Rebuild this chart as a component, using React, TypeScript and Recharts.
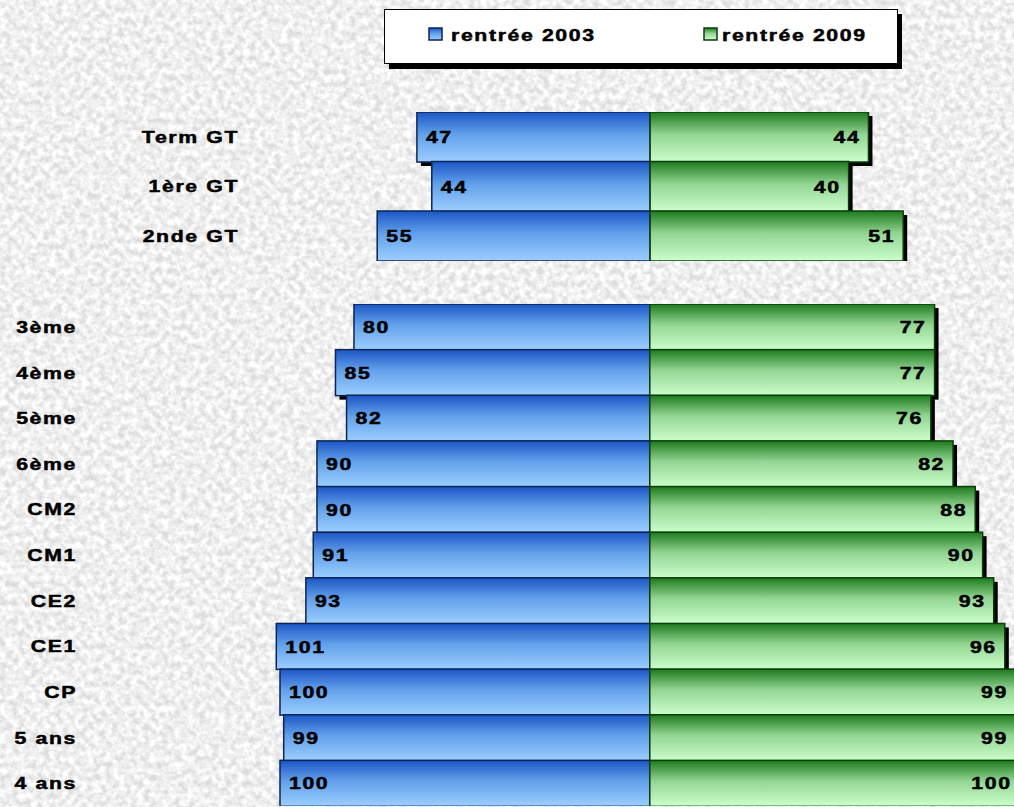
import React from "react";
import { BarChart, Bar, XAxis, YAxis, LabelList } from "recharts";

// lycée (upper block)
const lyceeLevels = ["Term GT", "1ère GT", "2nde GT"];
const lycee2003 = [47, 44, 55];
const lycee2009 = [44, 40, 51];

// collège / école (lower block)
const ecoleLevels = ["3ème", "4ème", "5ème", "6ème", "CM2", "CM1", "CE2", "CE1", "CP", "5 ans", "4 ans"];
const ecole2003 = [80, 85, 82, 90, 90, 91, 93, 101, 100, 99, 100];
const ecole2009 = [77, 77, 76, 82, 88, 90, 93, 96, 99, 99, 100];

const seriesNames = ["rentrée 2003", "rentrée 2009"];

const FONT = "'Liberation Sans', Arial, sans-serif";
const SX = 1.25; // the source picture is stretched sideways
const CX = 650; // the zero line

function toRows(levels: string[], a: number[], b: number[]) {
  return levels.map((name, i) => ({ name, y2003: -a[i], y2009: b[i] }));
}

function WideText({ x, y, anchor, children }: any) {
  return (
    <text
      transform={`translate(${x},${y}) scale(${SX},1)`}
      x={0}
      y={0}
      dy="0.36em"
      textAnchor={anchor}
      fontFamily={FONT}
      fontWeight="bold"
      fontSize={17}
      letterSpacing={1.3}
      fill="#000"
      stroke="#000"
      strokeWidth={0.5}
    >
      {children}
    </text>
  );
}

function box(p: any) {
  const left = Math.min(p.x, p.x + p.width);
  const top = Math.min(p.y, p.y + p.height);
  return { left, top, w: Math.abs(p.width), h: Math.abs(p.height) };
}

function barShape(grad: string, stroke: string) {
  return (p: any) => {
    const { left, top, w, h } = box(p);
    if (!w) return <g />;
    return (
      <g>
        <rect x={left + 4} y={top + 4} width={w} height={h} fill="#000" />
        <rect x={left} y={top} width={w} height={h} fill={`url(#${grad})`} stroke={stroke} strokeWidth={1.5} />
      </g>
    );
  };
}

const leftLabel = (p: any) => {
  const { left, top, h } = box(p);
  return <WideText x={left + 9} y={top + h / 2} anchor="start">{Math.abs(p.value)}</WideText>;
};

const rightLabel = (p: any) => {
  const { left, top, w, h } = box(p);
  return <WideText x={left + w - 8} y={top + h / 2} anchor="end">{p.value}</WideText>;
};

function Pyramid({ rows, k, d, top, height, labelX }: any) {
  const half = k * d;
  return (
    <div style={{ position: "absolute", left: 0, top }}>
      <BarChart
        width={Math.round(CX + half)}
        height={height}
        data={rows}
        layout="vertical"
        stackOffset="sign"
        barCategoryGap={0}
        margin={{ top: 0, right: 0, bottom: 0, left: 0 }}
      >
        <XAxis type="number" domain={[-d, d]} hide allowDataOverflow />
        <YAxis
          type="category"
          dataKey="name"
          width={CX - half}
          axisLine={false}
          tickLine={false}
          tick={(t: any) => (
            <WideText x={labelX} y={t.y} anchor="end">{t.payload.value}</WideText>
          )}
        />
        <Bar dataKey="y2003" stackId="s" isAnimationActive={false} shape={barShape("gBlue", "#0c2456")}>
          <LabelList dataKey="y2003" content={leftLabel} />
        </Bar>
        <Bar dataKey="y2009" stackId="s" isAnimationActive={false} shape={barShape("gGreen", "#0b3d0b")}>
          <LabelList dataKey="y2009" content={rightLabel} />
        </Bar>
      </BarChart>
    </div>
  );
}

function Legend() {
  return (
    <svg style={{ position: "absolute", left: 384, top: 9 }} width={525} height={66}>
      <rect x={5} y={5} width={513} height={55} fill="#000" />
      <rect x={0.5} y={0.5} width={513} height={54} fill="#fff" stroke="#000" />
      <rect x={45} y={19} width={13} height={12} fill="url(#gBlue)" stroke="#0c2456" strokeWidth={1.5} />
      <WideText x={67} y={26} anchor="start">{seriesNames[0]}</WideText>
      <rect x={320} y={19} width={13} height={12} fill="url(#gGreen)" stroke="#0b3d0b" strokeWidth={1.5} />
      <WideText x={338} y={26} anchor="start">{seriesNames[1]}</WideText>
    </svg>
  );
}

export default function App() {
  const lycee = toRows(lyceeLevels, lycee2003, lycee2009);
  const ecole = toRows(ecoleLevels, ecole2003, ecole2009);
  return (
    <div style={{ position: "fixed", left: 0, top: 0, width: 1014, height: 807, overflow: "hidden" }}>
      <svg style={{ position: "absolute", left: 0, top: 0 }} width={1014} height={807}>
        <defs>
          <linearGradient id="gBlue" x1="0" y1="0" x2="0" y2="1">
            <stop offset="0" stopColor="#1b56c6" />
            <stop offset="0.45" stopColor="#62a0ea" />
            <stop offset="1" stopColor="#9dcfff" />
          </linearGradient>
          <linearGradient id="gGreen" x1="0" y1="0" x2="0" y2="1">
            <stop offset="0" stopColor="#1d7a1d" />
            <stop offset="0.45" stopColor="#93d593" />
            <stop offset="1" stopColor="#ccffcc" />
          </linearGradient>
          <filter id="paper" x="0" y="0" width="100%" height="100%">
            <feTurbulence type="fractalNoise" baseFrequency="0.16" numOctaves="3" seed="7" />
            <feColorMatrix type="matrix" values="0 0 0 0 1  0 0 0 0 1  0 0 0 0 1  2.2 0 0 0 -0.55" />
          </filter>
        </defs>
        <rect width={1014} height={807} fill="#dcdcdc" />
        <rect width={1014} height={807} fill="#fff" filter="url(#paper)" />
      </svg>
      <Legend />
      <Pyramid rows={lycee} k={4.96} d={56} top={112} height={148.5} labelX={239} />
      <Pyramid rows={ecole} k={3.7} d={102} top={304} height={502} labelX={77} />
    </div>
  );
}
